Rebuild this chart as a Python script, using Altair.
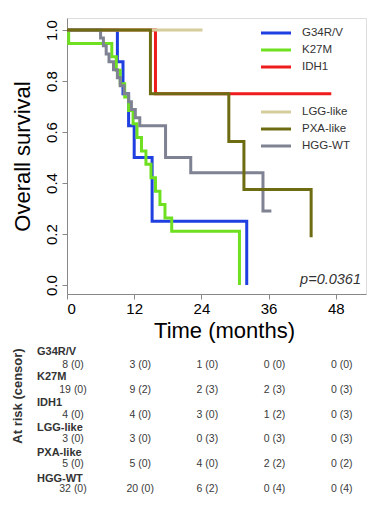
import altair as alt
import pandas as pd

FONT = "Liberation Sans"

groups = ["G34R/V", "K27M", "IDH1", "LGG-like", "PXA-like", "HGG-WT"]
colors = ["#1f3fe0", "#6fe020", "#ee1c1c", "#d6cc9c", "#6e6c12", "#7e8292"]

# Kaplan-Meier step curves (time in months, survival)
g34_t = [0, 9.0, 10.0, 11.0, 12.0, 15.2, 32.1]
g34_s = [1.0, 0.875, 0.75, 0.625, 0.5, 0.25, 0.0]

k27_t = [0, 0.3, 8.0, 8.8, 9.5, 10.3, 11.0, 11.8, 12.5, 13.3, 14.1, 15.0, 15.8, 16.6, 17.5, 18.7, 30.8]
k27_s = [1.0, 0.947, 0.895, 0.842, 0.789, 0.737, 0.684, 0.632, 0.579, 0.526, 0.474, 0.421, 0.368, 0.316, 0.263, 0.211, 0.0]

idh_t = [0, 15.8, 47.2]
idh_s = [1.0, 0.75, 0.75]

lgg_t = [0, 24.2]
lgg_s = [1.0, 1.0]

pxa_t = [0, 14.9, 28.9, 31.6, 43.6]
pxa_s = [1.0, 0.75, 0.5625, 0.375, 0.1875]

hgg_t = [0, 6.0, 6.5, 7.0, 7.5, 8.3, 9.0, 9.5, 10.2, 11.0, 11.5, 12.2, 13.0, 17.6, 22.1, 35.0, 36.5]
hgg_s = [1.0, 0.969, 0.938, 0.906, 0.875, 0.844, 0.813, 0.781, 0.75, 0.719, 0.688, 0.656, 0.625, 0.5, 0.44, 0.29, 0.29]

# At-risk table (censored in brackets)
risk_times = [0, 12, 24, 36, 48]
risk_g34 = ["8 (0)", "3 (0)", "1 (0)", "0 (0)", "0 (0)"]
risk_k27 = ["19 (0)", "9 (2)", "2 (3)", "2 (3)", "0 (3)"]
risk_idh = ["4 (0)", "4 (0)", "3 (0)", "1 (2)", "0 (3)"]
risk_lgg = ["3 (0)", "3 (0)", "0 (3)", "0 (3)", "0 (3)"]
risk_pxa = ["5 (0)", "5 (0)", "4 (0)", "2 (2)", "0 (2)"]
risk_hgg = ["32 (0)", "20 (0)", "6 (2)", "0 (4)", "0 (4)"]

p_text = "p=0.0361"

curves = [(g34_t, g34_s), (k27_t, k27_s), (idh_t, idh_s),
          (lgg_t, lgg_s), (hgg_t, hgg_s), (pxa_t, pxa_s)]
curve_names = ["G34R/V", "K27M", "IDH1", "LGG-like", "HGG-WT", "PXA-like"]
risks = [risk_g34, risk_k27, risk_idh, risk_lgg, risk_pxa, risk_hgg]

W, H = 299, 276
xscale = alt.Scale(domain=[0, 53.4], nice=False, zero=False)
yscale = alt.Scale(domain=[-0.035, 1.047], nice=False, zero=False)

xaxis = alt.Axis(values=risk_times, grid=False, tickSize=5, labelFontSize=15,
                 labelPadding=2, title="Time (months)", titleFontSize=22,
                 titleFontWeight="normal", titleX=157, titleY=36,
                 titleBaseline="middle", titleAlign="center")
yaxis = alt.Axis(values=[0, 0.2, 0.4, 0.6, 0.8, 1.0], format=".1f", grid=False,
                 tickSize=5, labelFontSize=15, labelAngle=270, labelPadding=3,
                 title="Overall survival", titleAngle=270, titleFontSize=22,
                 titleFontWeight="normal", titleX=-45, titleY=138,
                 titleBaseline="middle", titleAlign="center")


def X(field):
    return alt.X(field, type="quantitative", scale=xscale, axis=xaxis)


def Y(field):
    return alt.Y(field, type="quantitative", scale=yscale, axis=yaxis)


layers = []
for (ts, ss), name in zip(curves, curve_names):
    df = pd.DataFrame({"t": ts, "s": ss})
    col = colors[groups.index(name)]
    layers.append(
        alt.Chart(df).mark_line(interpolate="step-after", strokeWidth=3, color=col)
        .encode(x=X("t"), y=Y("s"))
    )

# Legend (two blocks inside the plot)
leg_y = [15, 32, 49, 94, 111, 128]
leg_df = pd.DataFrame({"name": groups, "col": colors, "ly": leg_y})
layers.append(
    alt.Chart(leg_df).mark_rule(strokeWidth=3).encode(
        x=alt.value(194), x2=alt.value(224),
        y=alt.Y("ly:Q", scale=None),
        color=alt.Color("col:N", scale=None))
)
layers.append(
    alt.Chart(leg_df).mark_text(align="left", baseline="middle", fontSize=11.5,
                                font=FONT, color="#333").encode(
        x=alt.value(235), y=alt.Y("ly:Q", scale=None), text="name:N")
)

# p-value
layers.append(
    alt.Chart(pd.DataFrame({"p": [p_text]})).mark_text(
        align="right", baseline="middle", fontSize=14.5, fontStyle="italic",
        font=FONT, color="#333").encode(x=alt.value(294), y=alt.value(262), text="p:N")
)

# At-risk table
rows = []
for i, (g, r) in enumerate(zip(groups, risks)):
    for t, lab in zip(risk_times, r):
        rows.append({"g": g, "t": t, "lab": lab, "ty": 347 + 24.8 * i})
tab_df = pd.DataFrame(rows)
layers.append(
    alt.Chart(tab_df).mark_text(align="center", baseline="middle", fontSize=10.5,
                                dx=6, font=FONT, color="#3a3a3a").encode(
        x=X("t"), y=alt.Y("ty:Q", scale=None), text="lab:N")
)
lab_df = pd.DataFrame({"g": groups, "gy": [334 + 25.3 * i for i in range(len(groups))]})
layers.append(
    alt.Chart(lab_df).mark_text(align="left", baseline="middle", fontSize=11,
                                fontWeight="bold", font=FONT, color="#333").encode(
        x=alt.value(-30), y=alt.Y("gy:Q", scale=None), text="g:N")
)
layers.append(
    alt.Chart(pd.DataFrame({"a": ["At risk (censor)"]})).mark_text(
        align="center", baseline="middle", angle=270, fontSize=13,
        fontWeight="bold", font=FONT, color="#333").encode(
        x=alt.value(-49), y=alt.value(378), text="a:N")
)

chart = alt.layer(*layers).properties(
    width=W, height=H,
    autosize=alt.AutoSizeParams(type="none"),
    padding={"left": 59, "top": 10, "right": 2, "bottom": 200},
).configure_view(stroke="#aaaaaa", strokeWidth=1).configure_axis(
    domainColor="#888888", tickColor="#888888", labelColor="#222222",
    titleColor="#222222", labelFont=FONT, titleFont=FONT
).configure(background="white")

chart.save("out.html", embed_options={"renderer": "svg", "actions": False})
